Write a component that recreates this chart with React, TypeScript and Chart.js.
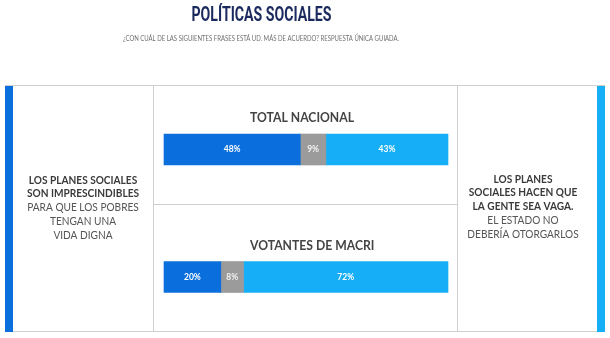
import React, { useEffect, useRef } from 'react';
import { Chart, registerables } from 'chart.js';
Chart.register(...registerables);

const title = 'POLÍTICAS SOCIALES';
const subtitle = '¿CON CUÁL DE LAS SIGUIENTES FRASES ESTÁ UD. MÁS DE ACUERDO? RESPUESTA ÚNICA GUIADA.';
const categories = ['TOTAL NACIONAL', 'VOTANTES DE MACRI'];
const seriesNames = ['Imprescindibles', 'Ns/Nc', 'Hacen vaga a la gente'];
const imprescindibles = [48, 20];
const nsnc = [9, 8];
const vaga = [43, 72];
const leftBold = ['LOS PLANES SOCIALES', 'SON IMPRESCINDIBLES'];
const leftRegular = ['PARA QUE LOS POBRES', 'TENGAN UNA', 'VIDA DIGNA'];
const rightBold = ['LOS PLANES', 'SOCIALES HACEN QUE', 'LA GENTE SEA VAGA.'];
const rightRegular = ['EL ESTADO NO', 'DEBERÍA OTORGARLOS'];

const colors = ['#0a6fdc', '#9b9b9b', '#16aef6'];

function txt(ctx: CanvasRenderingContext2D, s: string, x: number, y: number, font: string, color: string, align: CanvasTextAlign = 'center', sx = 1, maxW?: number) {
  ctx.save();
  ctx.font = font;
  ctx.fillStyle = color;
  ctx.textAlign = align;
  ctx.textBaseline = 'middle';
  ctx.translate(x, y);
  ctx.scale(sx, 1);
  if (maxW) ctx.fillText(s, 0, 0, maxW);
  else ctx.fillText(s, 0, 0);
  ctx.restore();
}

const framePlugin = {
  id: 'frame',
  beforeDraw(chart: any) {
    const ctx: CanvasRenderingContext2D = chart.ctx;
    ctx.save();
    ctx.fillStyle = '#ffffff';
    ctx.fillRect(0, 0, chart.width, chart.height);
    // title
    txt(ctx, title, 261.5, 16, 'bold 20px Roboto', '#1b2a5e', 'center', 1, 140);
    txt(ctx, subtitle, 261, 38.5, '7px Lato', '#707070', 'center', 1, 276);
    // frame lines
    ctx.strokeStyle = '#cfcfcf';
    ctx.lineWidth = 1;
    ctx.beginPath();
    ctx.moveTo(5, 85.5); ctx.lineTo(605, 85.5);
    ctx.moveTo(5, 331.5); ctx.lineTo(605, 331.5);
    ctx.moveTo(153.5, 86); ctx.lineTo(153.5, 331);
    ctx.moveTo(457.5, 86); ctx.lineTo(457.5, 331);
    ctx.moveTo(154, 204.5); ctx.lineTo(457, 204.5);
    ctx.stroke();
    // side bars
    ctx.fillStyle = colors[0];
    ctx.fillRect(5, 86, 8, 246);
    ctx.fillStyle = colors[2];
    ctx.fillRect(597, 86, 8, 246);
    // section titles
    const y = chart.scales.y;
    categories.forEach((c, i) => {
      const py = y.getPixelForValue(i);
      txt(ctx, c, 250, py - 32, 'bold 14px Lato', '#444444', 'left', 0.87);
    });
    // left text
    const lh = 13.8;
    const sx = 0.92;
    let ly = 180;
    leftBold.forEach((s) => { txt(ctx, s, 83, ly, 'bold 11px Lato', '#3a3a3a', 'center', sx); ly += lh; });
    leftRegular.forEach((s) => { txt(ctx, s, 83, ly, '11px Lato', '#555555', 'center', sx); ly += lh; });
    let ry = 179;
    rightBold.forEach((s) => { txt(ctx, s, 523, ry, 'bold 11px Lato', '#3a3a3a', 'center', sx); ry += lh; });
    rightRegular.forEach((s) => { txt(ctx, s, 523, ry, '11px Lato', '#555555', 'center', sx); ry += lh; });
    ctx.restore();
  },
  afterDatasetsDraw(chart: any) {
    const ctx: CanvasRenderingContext2D = chart.ctx;
    ctx.save();
    chart.data.datasets.forEach((ds: any, di: number) => {
      const meta = chart.getDatasetMeta(di);
      meta.data.forEach((bar: any, i: number) => {
        const { x, y, base } = bar.getProps(['x', 'y', 'base'], true);
        const cx = (x + base) / 2;
        txt(ctx, ds.data[i] + '%', cx, y, 'bold 8.5px Lato', di === 1 ? '#f2f2f2' : '#ffffff');
      });
    });
    ctx.restore();
  },
};

export default function App() {
  const ref = useRef<HTMLCanvasElement>(null);
  useEffect(() => {
    if (!ref.current) return;
    const series = [imprescindibles, nsnc, vaga];
    const chart = new Chart(ref.current, {
      type: 'bar',
      data: {
        labels: categories,
        datasets: series.map((d, i) => ({
          label: seriesNames[i],
          data: d,
          backgroundColor: colors[i],
          borderWidth: 0,
          barThickness: 31,
          clip: false as any,
        })),
      },
      options: {
        indexAxis: 'y',
        responsive: false,
        animation: false,
        layout: { padding: { left: 164, right: 162, top: 149.5, bottom: 61 } },
        plugins: { legend: { display: false }, tooltip: { enabled: false }, title: { display: false } },
        scales: {
          x: { stacked: true, min: 0, max: 100, display: false },
          y: { stacked: true, display: false, offset: false, grid: { offset: false } },
        },
      },
      plugins: [framePlugin],
    });
    return () => chart.destroy();
  }, []);
  return (
    <div style={{ position: 'fixed', left: 0, top: 0, width: 610, height: 338, background: '#fff' }}>
      <canvas ref={ref} width={610} height={338} style={{ width: 610, height: 338, display: 'block' }} />
    </div>
  );
}
